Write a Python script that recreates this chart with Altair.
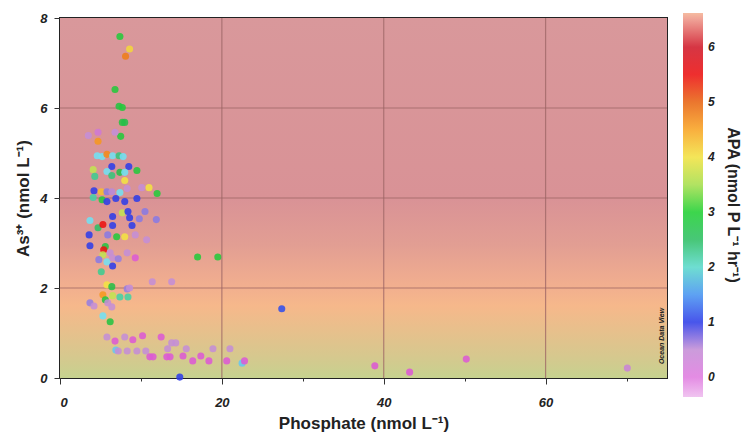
import altair as alt
import pandas as pd

# ---- data ----
phosphate = [7.4, 8.6, 8.1, 6.8, 7.3, 7.7, 7.7, 8.0, 7.5, 3.5, 4.7, 6.8, 4.7,
             4.6, 5.2, 5.8, 6.5, 7.3, 7.8, 6.4, 8.5, 9.5, 4.1, 4.3, 5.8, 6.4,
             7.4, 8.0, 8.0, 4.2, 5.1, 5.8, 6.4, 7.4, 8.3, 10.1, 11.0, 12.0,
             4.1, 5.2, 5.8, 6.9, 8.0, 9.5, 7.7, 8.4, 8.6, 6.5, 10.5, 11.9, 9.8,
             3.7, 4.7, 5.3, 6.5, 8.9, 3.6, 5.9, 7.0, 8.0, 9.3, 10.7, 3.7, 5.6,
             5.4, 5.3, 6.2, 4.8, 5.8, 6.5, 7.2, 9.3, 8.3, 6.5, 5.1, 11.4, 13.8,
             17.0, 19.5, 5.8, 6.4, 8.3, 8.6, 5.3, 6.5, 7.4, 8.4, 5.6, 3.7, 4.2,
             5.9, 6.4, 5.3, 6.2, 27.4,
             5.8, 6.8, 8.0, 9.0, 10.2, 12.5, 6.9, 7.2, 8.3, 9.5, 10.6, 11.1,
             11.5, 13.2, 13.6, 13.8, 14.3, 13.3, 15.6, 15.2, 16.4, 17.4, 18.4,
             18.9, 21.0, 20.6, 22.5, 22.8, 14.8, 38.9, 43.2, 50.2, 70.1]
as3 = [7.59, 7.31, 7.15, 6.41, 6.04, 6.01, 5.68, 5.68, 5.37, 5.39, 5.46, 5.46,
       5.26, 4.94, 4.92, 4.97, 4.94, 4.94, 4.92, 4.70, 4.70, 4.61, 4.63, 4.48,
       4.59, 4.50, 4.57, 4.57, 4.39, 4.16, 4.14, 4.14, 4.14, 4.12, 4.21, 4.23,
       4.23, 4.10, 4.01, 3.96, 3.92, 3.99, 3.92, 3.99, 3.67, 3.70, 3.56, 3.59,
       3.70, 3.52, 3.54, 3.50, 3.34, 3.41, 3.39, 3.39, 3.18, 3.18, 3.14, 3.14,
       3.18, 3.07, 2.94, 2.92, 2.85, 2.74, 2.78, 2.63, 2.58, 2.67, 2.65, 2.67,
       2.78, 2.49, 2.36, 2.14, 2.14, 2.69, 2.69, 2.07, 2.03, 1.98, 2.00, 1.85,
       1.83, 1.80, 1.80, 1.74, 1.67, 1.60, 1.67, 1.58, 1.38, 1.25, 1.54,
       0.91, 0.82, 0.91, 0.85, 0.94, 0.91, 0.62, 0.60, 0.60, 0.60, 0.60, 0.47,
       0.47, 0.47, 0.47, 0.78, 0.78, 0.65, 0.65, 0.49, 0.38, 0.49, 0.38, 0.65,
       0.65, 0.38, 0.33, 0.38, 0.02, 0.27, 0.13, 0.42, 0.22]
apa = [2.9, 4.1, 4.8, 2.9, 2.8, 2.9, 2.8, 2.7, 2.9, 0.5, 0.4, 0.5, 4.6,
       1.8, 1.8, 4.7, 1.8, 2.4, 1.8, 1.0, 1.0, 2.9, 3.6, 2.3, 1.8, 2.4,
       2.7, 1.8, 4.0, 1.0, 4.3, 0.75, 0.55, 1.8, 0.5, 0.5, 4.0, 2.9,
       2.2, 2.9, 1.0, 1.0, 1.0, 1.0, 3.6, 1.0, 1.0, 1.0, 0.75, 0.75, 0.75,
       1.8, 2.5, 5.5, 1.0, 1.0, 1.0, 0.75, 2.9, 4.0, 0.5, 0.5, 1.0, 2.8,
       5.5, 3.6, 0.5, 0.75, 1.8, 0.5, 0.7, 0.25, 0.5, 1.0, 2.3, 0.5, 0.5,
       2.9, 2.9, 4.0, 2.7, 0.7, 0.5, 4.6, 3.6, 2.2, 2.2, 2.8, 0.7, 0.5,
       0.5, 0.5, 1.8, 2.8, 1.1,
       0.5, 0.25, 0.5, 0.25, 0.25, 0.25, 1.7, 0.5, 0.5, 0.5, 0.5, 0.25,
       0.25, 0.25, 0.25, 0.5, 0.5, 0.5, 0.5, 0.25, 0.25, 0.25, 0.25, 0.5,
       0.5, 0.25, 1.7, 0.25, 1.0, 0.25, 0.25, 0.25, 0.45]

apa_stops = [-0.36, 0.0, 0.25, 0.5, 0.75, 1.0, 1.4, 1.8, 2.2, 2.6, 3.0, 3.6,
             4.0, 4.5, 5.0, 5.5, 6.0, 6.3, 6.62]
apa_colors = ["#eebcee", "#e07ce0", "#dc5ad4", "#c48ed6", "#8a7ae2", "#2f3ee8",
              "#3a7cf0", "#72e0f2", "#44d2a4", "#28b850", "#22d034", "#c2e252",
              "#f2e242", "#f8a424", "#e86412", "#ec1212", "#d01a2a", "#e06272",
              "#f4b294"]
apa_ticks = [0, 1, 2, 3, 4, 5, 6]

x_ticks = [0, 10, 20, 30, 40, 50, 60, 70]
y_ticks = [0, 2, 4, 6, 8]
x_grid = [20, 40, 60]
y_grid = [2, 4, 6]
x_max = 75
y_max = 8

bg_stops = [(0.0, "#c6d28f"), (0.06, "#d6c88e"), (0.13, "#e7c08c"),
            (0.20, "#f6b88b"), (0.26, "#f1ae8f"), (0.37, "#e29e93"),
            (0.50, "#d99296"), (1.0, "#d9989b")]

df = pd.DataFrame({"phosphate": phosphate, "as3": as3, "apa": apa})
bg = pd.DataFrame({"x": [0], "x2": [x_max], "y": [0], "y2": [y_max]})
gx = pd.DataFrame({"v": x_grid})
gy = pd.DataFrame({"v": y_grid})

W, H = 607, 360
FONT = "Liberation Sans"

xscale = alt.Scale(domain=[0, x_max], nice=False, zero=False)
yscale = alt.Scale(domain=[0, y_max], nice=False, zero=False)

background = alt.Chart(bg).mark_rect(
    fill={"gradient": "linear", "x1": 0, "y1": 1, "x2": 0, "y2": 0,
          "stops": [{"offset": o, "color": c} for o, c in bg_stops]},
).encode(
    x=alt.X("x:Q", scale=xscale,
            axis=alt.Axis(values=x_ticks, grid=False, domain=False,
                          labelExpr="datum.value % 20 === 0 ? datum.label : ''",
                          tickSize={"condition": {"test": "datum.value % 20 === 0", "value": 6}, "value": 3},
                          tickColor="#333", labelFont=FONT, labelFontSize=13,
                          labelFontWeight="bold", labelFontStyle="italic",
                          labelColor="#222", labelPadding=12,
                          title="Phosphate (nmol L⁻¹)", titleFont=FONT,
                          titleFontSize=17, titleFontWeight="bold",
                          titleColor="#222", titlePadding=6)),
    x2="x2:Q",
    y=alt.Y("y:Q", scale=yscale,
            axis=alt.Axis(values=y_ticks, grid=False, domain=False, tickSize=6,
                          tickColor="#333", labelFont=FONT, labelFontSize=13,
                          labelFontWeight="bold", labelFontStyle="italic",
                          labelColor="#222", labelPadding=7,
                          title="As³⁺ (nmol L⁻¹)", titleFont=FONT,
                          titleFontSize=17, titleFontWeight="bold",
                          titleColor="#222", titlePadding=7)),
    y2="y2:Q",
)

vgrid = alt.Chart(gx).mark_rule(color="#9c6464", strokeWidth=1.2, opacity=0.75).encode(
    x=alt.X("v:Q", scale=xscale)
)
hgrid = alt.Chart(gy).mark_rule(color="#9c6464", strokeWidth=1.2, opacity=0.75).encode(
    y=alt.Y("v:Q", scale=yscale)
)

points = alt.Chart(df).mark_circle(size=50, opacity=0.88).encode(
    x=alt.X("phosphate:Q", scale=xscale),
    y=alt.Y("as3:Q", scale=yscale),
    color=alt.Color("apa:Q",
                    scale=alt.Scale(domain=apa_stops, range=apa_colors,
                                    interpolate="rgb"),
                    legend=alt.Legend(orient="none", legendX=623, legendY=-5,
                                      direction="vertical",
                                      gradientLength=384, gradientThickness=20,
                                      gradientStrokeWidth=0,
                                      values=apa_ticks,
                                      labelFont=FONT, labelFontSize=12,
                                      labelFontWeight="bold",
                                      labelFontStyle="italic",
                                      labelColor="#222", labelOffset=5,
                                      title="APA (nmol P L⁻¹ hr⁻¹)",
                                      titleFont=FONT, titleFontSize=16,
                                      titleFontWeight="bold", titleColor="#222",
                                      titleOrient="right",
                                      titleAnchor="middle", titlePadding=10)),
)

odv = alt.Chart(pd.DataFrame({"t": ["Ocean Data View"]})).mark_text(
    angle=270, font=FONT, fontSize=7, fontStyle="italic", fontWeight="bold",
    color="#222", align="center", baseline="middle"
).encode(x=alt.value(W - 5), y=alt.value(H - 42), text="t:N")

chart = alt.layer(background, vgrid, hgrid, points, odv).properties(
    width=W, height=H,
    autosize=alt.AutoSizeParams(type="none"),
    padding={"left": 60, "top": 18, "right": 78, "bottom": 54},
    background="white",
).configure_view(stroke="#222", strokeWidth=2)

chart.save("out.html", embed_options={"renderer": "svg", "actions": False})
